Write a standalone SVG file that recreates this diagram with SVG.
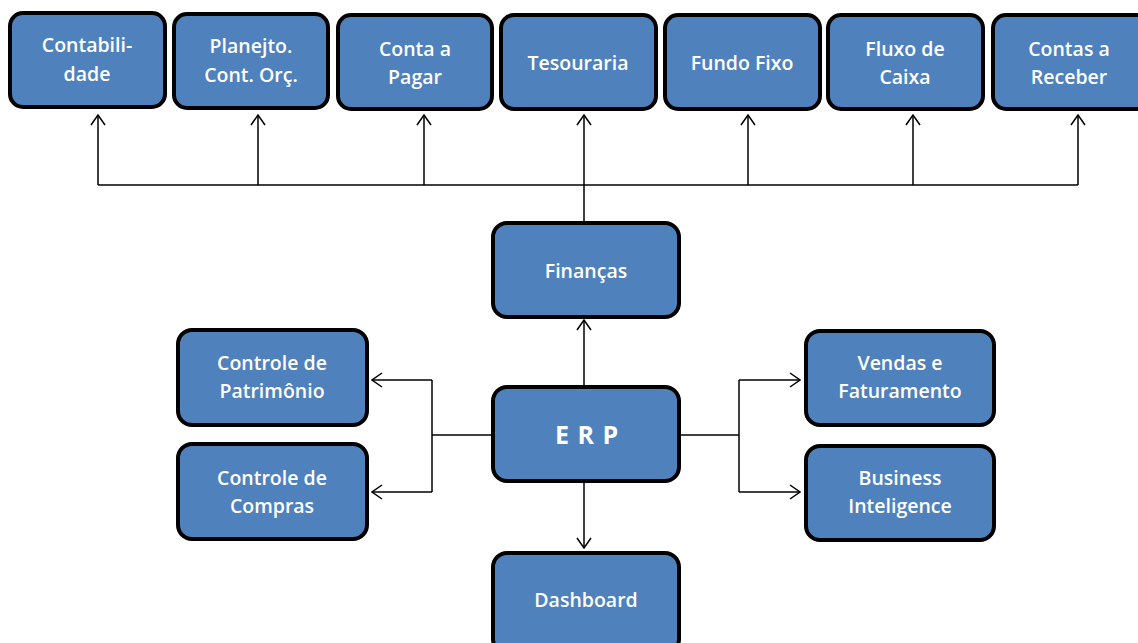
<svg xmlns="http://www.w3.org/2000/svg" width="1138" height="643" viewBox="0 0 1138 643">
<defs>
<marker id="arr" viewBox="0 0 12 16" refX="11" refY="8" markerWidth="12" markerHeight="16" markerUnits="userSpaceOnUse" orient="auto">
<path d="M1,1 L11,8 L1,15" fill="none" stroke="#000" stroke-width="1.5"/>
</marker>
</defs>
<style>
.box{fill:#4F81BD;stroke:#000;stroke-width:4}
.t{fill:#fff;font-family:"Open Sans",Lato,"Liberation Sans",sans-serif;font-size:19.5px;font-weight:600;text-anchor:middle}
.erp{font-size:25px;font-weight:bold;letter-spacing:1px}
.c{fill:none;stroke:#000;stroke-width:1.5}
</style>
<rect width="1138" height="643" fill="#fff"/>
<g id="connectors">
<path class="c" d="M98,185 H1078"/>
<path class="c" d="M98,185 V115" marker-end="url(#arr)"/>
<path class="c" d="M258,185 V115" marker-end="url(#arr)"/>
<path class="c" d="M424,185 V115" marker-end="url(#arr)"/>
<path class="c" d="M584,222 V115" marker-end="url(#arr)"/>
<path class="c" d="M748,185 V115" marker-end="url(#arr)"/>
<path class="c" d="M913,185 V115" marker-end="url(#arr)"/>
<path class="c" d="M1078,185 V115" marker-end="url(#arr)"/>
<path class="c" d="M584,387 V320" marker-end="url(#arr)"/>
<path class="c" d="M584,482 V548" marker-end="url(#arr)"/>
<path class="c" d="M492,435 H432"/>
<path class="c" d="M432,380 V492"/>
<path class="c" d="M432,380 H372" marker-end="url(#arr)"/>
<path class="c" d="M432,492 H372" marker-end="url(#arr)"/>
<path class="c" d="M680,435 H739"/>
<path class="c" d="M739,380 V492"/>
<path class="c" d="M739,380 H800" marker-end="url(#arr)"/>
<path class="c" d="M739,492 H800" marker-end="url(#arr)"/>
</g>
<g id="contabilidade"><rect class="box" x="10" y="13" width="155" height="94" rx="13"/><text class="t" x="87" y="52">Contabili-</text><text class="t" x="87" y="81">dade</text></g>
<g id="planejto"><rect class="box" x="174" y="14" width="154" height="94" rx="13"/><text class="t" x="251" y="53">Planejto.</text><text class="t" x="251" y="82">Cont. Orç.</text></g>
<g id="conta-pagar"><rect class="box" x="338" y="15" width="154" height="94" rx="13"/><text class="t" x="415" y="56">Conta a</text><text class="t" x="415" y="84">Pagar</text></g>
<g id="tesouraria"><rect class="box" x="501" y="15" width="155" height="94" rx="13"/><text class="t" x="578" y="70">Tesouraria</text></g>
<g id="fundo-fixo"><rect class="box" x="665" y="15" width="155" height="94" rx="13"/><text class="t" x="742" y="70">Fundo Fixo</text></g>
<g id="fluxo-caixa"><rect class="box" x="828" y="15" width="155" height="94" rx="13"/><text class="t" x="905" y="56">Fluxo de</text><text class="t" x="905" y="84">Caixa</text></g>
<g id="contas-receber"><rect class="box" x="993" y="15" width="160" height="94" rx="13"/><text class="t" x="1069" y="56">Contas a</text><text class="t" x="1069" y="84">Receber</text></g>
<g id="financas"><rect class="box" x="493" y="223" width="186" height="94" rx="14"/><text class="t" x="586" y="278">Finanças</text></g>
<g id="erp"><rect class="box" x="493" y="387" width="186" height="94" rx="14"/><text class="t erp" x="587" y="444">E R P</text></g>
<g id="dashboard"><rect class="box" x="493" y="553" width="186" height="100" rx="14"/><text class="t" x="586" y="607">Dashboard</text></g>
<g id="controle-patrimonio"><rect class="box" x="178" y="330" width="189" height="95" rx="14"/><text class="t" x="272" y="370">Controle de</text><text class="t" x="272" y="398">Patrimônio</text></g>
<g id="controle-compras"><rect class="box" x="178" y="444" width="189" height="95" rx="14"/><text class="t" x="272" y="485">Controle de</text><text class="t" x="272" y="513">Compras</text></g>
<g id="vendas"><rect class="box" x="806" y="331" width="188" height="94" rx="14"/><text class="t" x="900" y="370">Vendas e</text><text class="t" x="900" y="398">Faturamento</text></g>
<g id="business"><rect class="box" x="806" y="446" width="188" height="94" rx="14"/><text class="t" x="900" y="485">Business</text><text class="t" x="900" y="513">Inteligence</text></g>
</svg>
